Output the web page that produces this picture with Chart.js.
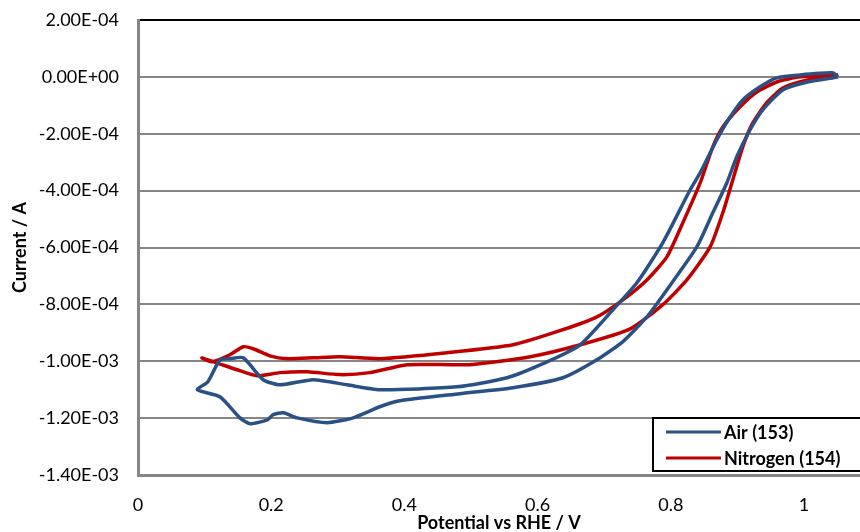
<!DOCTYPE html>
<html>
<head>
<meta charset="utf-8">
<script src="https://cdn.jsdelivr.net/npm/chart.js@4.4.0/dist/chart.umd.min.js"></script>
<style>
  html, body { margin: 0; padding: 0; background: #fff; }
  #wrap { width: 860px; height: 532px; }
</style>
</head>
<body>
<div id="wrap"><canvas id="cv" width="860" height="532"></canvas></div>
<script>
// Air (153) loop: potential (V vs RHE) and current (A)
const airV = [1.051, 1.044, 0.994, 0.959, 0.934, 0.908, 0.889, 0.869, 0.844, 0.829,
  0.788, 0.749, 0.713, 0.664, 0.614, 0.554, 0.479, 0.363, 0.314, 0.263,
  0.213, 0.188, 0.158, 0.138, 0.123, 0.105, 0.089, 0.123, 0.153, 0.168,
  0.194, 0.203, 0.218, 0.239, 0.284, 0.323, 0.363, 0.393, 0.483, 0.563,
  0.638, 0.689, 0.728, 0.764, 0.794, 0.839, 0.863, 0.884, 0.899, 0.919,
  0.938, 0.968, 1.005, 1.044, 1.051];
const airI = [0, 1.4e-5, 7e-6, -3.5e-6, -3.5e-5, -8.1e-5, -1.41e-4, -2.21e-4, -3.37e-4, -3.97e-4,
  -5.83e-4, -7.24e-4, -8.19e-4, -9.42e-4, -1.002e-3, -1.058e-3, -1.090e-3, -1.100e-3, -1.083e-3, -1.065e-3,
  -1.083e-3, -1.065e-3, -0.988e-3, -0.991e-3, -0.995e-3, -1.072e-3, -1.100e-3, -1.125e-3, -1.199e-3, -1.220e-3,
  -1.206e-3, -1.188e-3, -1.181e-3, -1.199e-3, -1.216e-3, -1.199e-3, -1.160e-3, -1.139e-3, -1.114e-3, -1.093e-3,
  -1.058e-3, -0.995e-3, -0.931e-3, -0.844e-3, -0.749e-3, -0.598e-3, -0.478e-3, -0.373e-3, -0.281e-3, -0.186e-3,
  -0.116e-3, -0.046e-3, -0.018e-3, -3.5e-6, 0];

// Nitrogen (154) loop
const n2V = [1.051, 0.994, 0.959, 0.929, 0.904, 0.878, 0.863, 0.844, 0.818, 0.794,
  0.764, 0.728, 0.689, 0.638, 0.563, 0.464, 0.363, 0.303, 0.263, 0.224,
  0.198, 0.173, 0.158, 0.138, 0.111, 0.096, 0.126, 0.149, 0.179, 0.213,
  0.254, 0.303, 0.348, 0.404, 0.498, 0.589, 0.664, 0.739, 0.788, 0.824,
  0.859, 0.878, 0.893, 0.908, 0.923, 0.944, 0.968, 1.005, 1.051];
const n2I = [7e-6, 0, -1.8e-5, -5.3e-5, -1.05e-4, -1.76e-4, -2.46e-4, -3.73e-4, -5.13e-4, -6.33e-4,
  -7.14e-4, -7.84e-4, -8.44e-4, -8.89e-4, -9.42e-4, -9.70e-4, -9.91e-4, -9.84e-4, -9.88e-4, -9.91e-4,
  -9.81e-4, -9.56e-4, -9.49e-4, -9.77e-4, -1.002e-3, -0.988e-3, -1.012e-3, -1.030e-3, -1.051e-3, -1.040e-3,
  -1.037e-3, -1.047e-3, -1.040e-3, -1.012e-3, -1.012e-3, -0.984e-3, -0.942e-3, -0.886e-3, -0.801e-3, -0.714e-3,
  -0.598e-3, -0.478e-3, -0.362e-3, -0.246e-3, -0.162e-3, -0.091e-3, -0.039e-3, -0.011e-3, 7e-6];

const seriesNames = ["Air (153)", "Nitrogen (154)"];
const seriesColors = ["#2a5185", "#c00000"];

// tick values
const xTicks = [0, 0.2, 0.4, 0.6, 0.8, 1];
const yTicks = [2e-4, 0, -2e-4, -4e-4, -6e-4, -8e-4, -1e-3, -1.2e-3, -1.4e-3];

const xTitle = "Potential vs RHE / V";
const yTitle = "Current / A";

function toPoints(xs, ys) {
  return xs.map((x, i) => ({ x: x, y: ys[i] }));
}

// Excel style 0.00E+00 labels
function sciLabel(v) {
  v = Math.round(v * 1e7) / 1e7;
  const parts = v.toExponential(2).split("e");
  const exp = parseInt(parts[1], 10);
  return parts[0] + "E" + (exp < 0 ? "-" : "+") + String(Math.abs(exp)).padStart(2, "0");
}

// legend box drawn inside the plot, bottom right
const boxLegend = {
  id: "boxLegend",
  afterDraw(chart) {
    const ctx = chart.ctx;
    ctx.save();
    ctx.fillStyle = "#fff";
    ctx.fillRect(653, 418, 220, 53);
    ctx.strokeStyle = "#000";
    ctx.lineWidth = 2;
    ctx.strokeRect(653, 418, 220, 53);
    ctx.font = "bold 18px Lato";
    ctx.textBaseline = "middle";
    ctx.textAlign = "left";
    chart.data.datasets.forEach((ds, i) => {
      const y = 432 + i * 26;
      ctx.strokeStyle = ds.borderColor;
      ctx.lineWidth = 3;
      ctx.beginPath();
      ctx.moveTo(666, y);
      ctx.lineTo(721, y);
      ctx.stroke();
      ctx.fillStyle = "#000";
      ctx.fillText(ds.label, 724, y + 1);
    });
    ctx.restore();
  }
};

Chart.defaults.font.family = "Lato";
Chart.defaults.color = "#000";

const ctx = document.getElementById("cv").getContext("2d");
new Chart(ctx, {
  type: "scatter",
  data: {
    datasets: [
      {
        label: seriesNames[0],
        data: toPoints(airV, airI),
        showLine: true,
        borderColor: seriesColors[0],
        backgroundColor: seriesColors[0],
        borderWidth: 3.5,
        pointRadius: 0,
        tension: 0.2,
      },
      {
        label: seriesNames[1],
        data: toPoints(n2V, n2I),
        showLine: true,
        borderColor: seriesColors[1],
        backgroundColor: seriesColors[1],
        borderWidth: 3.5,
        pointRadius: 0,
        tension: 0.2,
      },
    ],
  },
  options: {
    responsive: false,
    animation: false,
    devicePixelRatio: 1,
    layout: { padding: { top: 20, right: 0, bottom: 0, left: 0 } },
    plugins: {
      legend: { display: false },
      tooltip: { enabled: false },
    },
    scales: {
      x: {
        type: "linear",
        min: 0,
        max: 1.084,
        afterBuildTicks: (s) => { s.ticks = xTicks.map((v) => ({ value: v })); },
        afterFit: (s) => { s.height = 57; },
        ticks: {
          padding: 19,
          maxRotation: 0,
          autoSkip: false,
          font: { size: 18 },
          callback: (v) => String(Math.round(v * 10) / 10),
        },
        grid: { display: false, drawTicks: false },
        border: { display: true, color: "#868686", width: 3 },
        title: {
          display: true,
          text: xTitle,
          font: { size: 18, weight: "bold", lineHeight: 1 },
          padding: { top: 0, bottom: 0 },
        },
      },
      y: {
        min: -1.4e-3,
        max: 2e-4,
        afterBuildTicks: (s) => { s.ticks = yTicks.slice().reverse().map((v) => ({ value: v })); },
        afterFit: (s) => {
          s.width = 138;
          s.paddingTop = 0;
          s.paddingBottom = 0;
        },
        ticks: {
          padding: 19,
          autoSkip: false,
          font: { size: 18 },
          callback: (v) => sciLabel(v),
        },
        grid: {
          drawTicks: false,
          lineWidth: 2,
          color: (c) => (c.tick && c.tick.value > 1.9e-4 ? "#000" : "#868686"),
        },
        border: { display: true, color: "#868686", width: 3 },
        title: {
          display: true,
          text: yTitle,
          font: { size: 18, weight: "bold" },
          padding: { top: 9, bottom: 0 },
        },
      },
    },
  },
  plugins: [boxLegend],
});
</script>
</body>
</html>
